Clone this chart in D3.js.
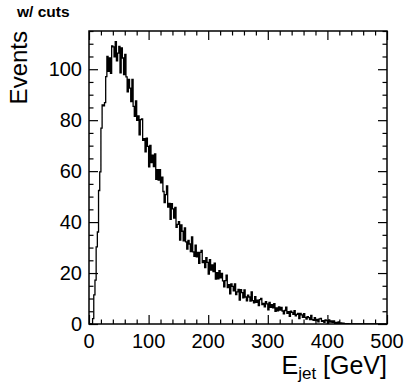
<!DOCTYPE html>
<html>
<head>
<meta charset="utf-8">
<script src="https://cdn.jsdelivr.net/npm/d3@7/dist/d3.min.js"></script>
<style>
  body { margin: 0; background: #fff; }
  text { font-family: 'Liberation Sans', Arial, Helvetica, sans-serif; fill: #000; }
</style>
</head>
<body>
<script>
// histogram: 250 bins of 2 GeV from 0 to 500
const binLow = 0;
const binWidth = 2;
const counts = [
  0, 0, 0, 2.1, 11.4, 17.2, 30.3, 36.1, 52.4, 59.7,
  76.9, 86.0, 85.6, 86.9, 97.1, 105.0, 99.2, 104.4, 98.4, 109.2,
  108.8, 104.9, 110.8, 103.3, 106.3, 109.0, 98.6, 108.4, 104.4, 97.9,
  105.8, 97.0, 91.1, 96.0, 92.6, 87.3, 96.0, 85.4, 81.5, 87.6,
  79.9, 81.7, 74.2, 80.2, 80.5, 72.1, 72.7, 67.6, 72.9, 69.7,
  61.7, 70.1, 63.3, 66.3, 61.8, 66.8, 56.8, 60.6, 56.5, 60.6,
  55.4, 57.6, 52.0, 47.6, 50.8, 54.2, 45.9, 47.3, 41.1, 47.2,
  45.2, 41.6, 45.8, 37.9, 39.1, 40.2, 32.9, 38.9, 36.4, 32.6,
  37.7, 32.2, 29.4, 32.8, 31.4, 28.4, 34.2, 28.3, 26.6, 30.9,
  26.4, 28.1, 23.8, 28.1, 28.9, 24.1, 24.9, 22.1, 26.0, 24.2,
  19.6, 25.3, 21.2, 23.2, 20.6, 23.9, 17.6, 20.2, 17.7, 20.9,
  18.1, 19.9, 16.9, 14.6, 17.0, 19.2, 14.3, 15.4, 11.8, 15.7,
  14.8, 13.0, 15.7, 11.5, 12.6, 13.6, 9.4, 13.5, 12.3, 10.3,
  13.4, 10.6, 9.1, 11.3, 10.6, 9.0, 12.6, 9.2, 8.3, 10.7,
  8.5, 9.4, 7.2, 9.6, 10.0, 7.6, 8.1, 6.7, 8.8, 7.9,
  5.6, 8.5, 6.5, 7.6, 6.3, 8.0, 5.0, 6.3, 5.2, 6.7,
  5.5, 6.5, 5.1, 4.0, 5.3, 6.6, 4.2, 4.8, 3.0, 5.0,
  4.6, 3.8, 5.2, 3.2, 3.8, 4.2, 2.1, 4.2, 3.6, 2.6,
  4.1, 2.6, 1.9, 2.9, 2.5, 1.7, 3.4, 1.7, 1.4, 2.5,
  1.3, 1.8, 0.8, 2.0, 2.2, 1.0, 1.3, 0.6, 1.6, 1.3,
  0.3, 1.6, 0.7, 1.2, 0.6, 1.2, 0.1, 0.6, 0.2, 0.8,
  0.3, 0.4, 0.1, 0.3, 0.1, 0.1, 0, 0.1, 0, 0,
  0, 0, 0, 0, 0, 0, 0, 0, 0, 0,
  0, 0, 0, 0, 0, 0, 0, 0, 0, 0,
  0, 0, 0, 0, 0, 0, 0, 0, 0, 0
];
const xDomain = [0, 500];
const yDomain = [0, 115];
const xTicks = [0, 100, 200, 300, 400, 500];
const yTicks = [0, 20, 40, 60, 80, 100];
const xMinorStep = 20;
const yMinorStep = 5;
const title = 'w/ cuts';
const yTitle = 'Events';

const width = 408;
const height = 383;
const frame = { left: 89, right: 387, top: 31, bottom: 324 };

const x = d3.scaleLinear().domain(xDomain).range([frame.left, frame.right]);
const y = d3.scaleLinear().domain(yDomain).range([frame.bottom, frame.top]);

const svg = d3.select('body').append('svg').attr('width', width).attr('height', height);

svg.append('defs').append('clipPath').attr('id', 'frameClip')
  .append('rect')
  .attr('x', frame.left).attr('y', frame.top)
  .attr('width', frame.right - frame.left).attr('height', frame.bottom - frame.top);

/*
  histogram outline (step line)
*/
const points = counts.map((c, i) => [binLow + i * binWidth, c]);
points.push([binLow + counts.length * binWidth, counts[counts.length - 1]]);

const line = d3.line()
  .x((d) => x(d[0]))
  .y((d) => y(d[1]))
  .curve(d3.curveStepAfter);

svg.append('path')
  .datum(points)
  .attr('clip-path', 'url(#frameClip)')
  .attr('fill', 'none')
  .attr('stroke', '#000')
  .attr('stroke-width', 1.3)
  .attr('d', line);

/*
  axes with ROOT-like inside ticks on all four sides
*/
const majorLen = 9;
const minorLen = 4.5;
const xMinor = d3.range(xDomain[0], xDomain[1] + 0.001, xMinorStep).filter((v) => !xTicks.includes(v));
const yMinor = d3.range(yDomain[0], yDomain[1] + 0.001, yMinorStep).filter((v) => !yTicks.includes(v));

const axisG = svg.append('g');

[
  [xTicks, majorLen], [xMinor, minorLen]
].forEach(([vals, len]) => {
  axisG.append('g').attr('transform', `translate(0,${frame.bottom})`)
    .call(d3.axisBottom(x).tickValues(vals).tickSize(-len).tickFormat('').tickSizeOuter(0));
  axisG.append('g').attr('transform', `translate(0,${frame.top})`)
    .call(d3.axisTop(x).tickValues(vals).tickSize(-len).tickFormat('').tickSizeOuter(0));
});

[
  [yTicks, majorLen], [yMinor, minorLen]
].forEach(([vals, len]) => {
  axisG.append('g').attr('transform', `translate(${frame.left},0)`)
    .call(d3.axisLeft(y).tickValues(vals).tickSize(-len).tickFormat('').tickSizeOuter(0));
  axisG.append('g').attr('transform', `translate(${frame.right},0)`)
    .call(d3.axisRight(y).tickValues(vals).tickSize(-len).tickFormat('').tickSizeOuter(0));
});

axisG.selectAll('.domain').remove();
axisG.selectAll('line').attr('stroke', '#000').attr('stroke-width', 1.2);

// frame
svg.append('rect')
  .attr('x', frame.left).attr('y', frame.top)
  .attr('width', frame.right - frame.left).attr('height', frame.bottom - frame.top)
  .attr('fill', 'none').attr('stroke', '#000').attr('stroke-width', 1.5);

/*
  labels
*/
svg.append('g').selectAll('text')
  .data(xTicks)
  .join('text')
  .attr('x', (d) => x(d))
  .attr('y', 348)
  .attr('text-anchor', 'middle')
  .style('font-size', '20px')
  .text((d) => d);

svg.append('g').selectAll('text')
  .data(yTicks)
  .join('text')
  .attr('x', 82)
  .attr('y', (d) => y(d) + 7)
  .attr('text-anchor', 'end')
  .style('font-size', '20px')
  .text((d) => d);

const xTitle = svg.append('text')
  .attr('x', frame.right)
  .attr('y', 374)
  .attr('text-anchor', 'end')
  .style('font-size', '25px');
xTitle.append('tspan').text('E');
xTitle.append('tspan').attr('dy', 5).style('font-size', '17px').text('jet');
xTitle.append('tspan').attr('dy', -5).text('\u00a0[GeV]');

svg.append('text')
  .attr('transform', `translate(27,${frame.top}) rotate(-90)`)
  .attr('text-anchor', 'end')
  .style('font-size', '24px')
  .text(yTitle);

svg.append('text')
  .attr('x', 17)
  .attr('y', 17)
  .style('font-size', '15.5px')
  .style('font-weight', 'bold')
  .text(title);
</script>
</body>
</html>
